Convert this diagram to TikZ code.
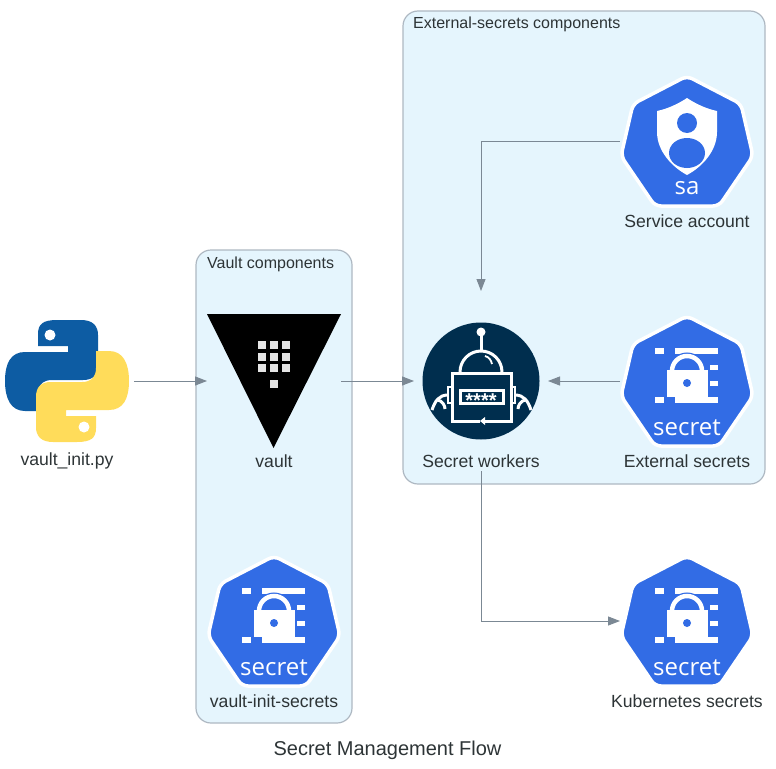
\documentclass[tikz,border=0pt]{standalone}
\usepackage{fontspec}
\setmainfont{Liberation Sans}
\newfontfamily\iconfont{Open Sans}
\usetikzlibrary{arrows.meta, positioning}
\definecolor{clusterfill}{RGB}{229, 245, 253}
\definecolor{clusterline}{RGB}{174, 184, 194}
\definecolor{edgegray}{RGB}{123, 136, 148}
\definecolor{textgray}{RGB}{45, 52, 54}
\definecolor{kubeblue}{RGB}{50, 108, 229}
\definecolor{botnavy}{RGB}{0, 46, 78}
\definecolor{pyblue}{RGB}{13, 92, 163}
\definecolor{pyyellow}{RGB}{255, 220, 90}

\tikzset{
  cluster/.style={draw=clusterline, fill=clusterfill, line width=1.2pt, rounded corners=15pt},
  clustertitle/.style={anchor=west, inner sep=0pt, text=textgray, font=\fontsize{16}{18}\selectfont},
  svcbox/.style={minimum width=134pt, minimum height=180pt, inner sep=0pt, outer sep=0pt},
  svclabel/.style={inner sep=0pt, text=textgray, font=\fontsize{17.6}{20}\selectfont},
  flow/.style={draw=edgegray, line width=1pt, -{Triangle[length=12pt, width=9pt]}},
  botline/.style={draw=white, line width=3pt},
  icontext/.style={inner sep=0pt, text=white, font=\iconfont\fontsize{24}{26}\selectfont}
}

% blue heptagon behind the kubernetes icons
\newcommand{\kubehept}{
  \draw[fill=kubeblue, draw=white, line width=3.5pt, line join=round, rounded corners=6pt]
    (0,-65) -- (54,-37) -- (66,15) -- (32,65) -- (-32,65) -- (-66,15) -- (-54,-37) -- cycle;
}
\newcommand{\secreticon}[1]{
  \begin{scope}[shift={(#1.center)}]
    \kubehept
    \fill[white] (-32,-33) rectangle (-23,-27);
    \fill[white] (-12,-33) rectangle (31,-27);
    \fill[white] (23,-16) rectangle (31,-11);
    \fill[white] (23,0) rectangle (31,5);
    \fill[white] (-32,16) rectangle (-23,22);
    \fill[white] (-12,16) rectangle (31,22);
    \draw[kubeblue, line width=7pt] (-15,-9) -- (-15,-10) arc[start angle=180, end angle=360, radius=15] -- (15,-9);
    \draw[white, line width=4.5pt] (-15,-9) -- (-15,-10) arc[start angle=180, end angle=360, radius=15] -- (15,-9);
    \fill[white] (-20,-11) rectangle (21,16);
    \fill[kubeblue] (0,2) circle (4);
    \node[icontext] (#1text) at (0,47) {secret};
  \end{scope}
}

\begin{document}
\begin{tikzpicture}[x=1pt, y=-1pt]
  \useasboundingbox (0,0) rectangle (776,768);

  % Clusters
  \draw[cluster] (196,250) rectangle (352,723);
  \node[clustertitle] (vaulttitle) at (207,264) {Vault components};
  \draw[cluster] (403,11) rectangle (765,484);
  \node[clustertitle] (exttitle) at (413,24) {External-secrets components};

  % Nodes
  \node[svcbox] (script) at (67,381) {};
  \node[svcbox] (vault) at (274,381) {};
  \node[svcbox] (vaultinit) at (274,621) {};
  \node[svcbox] (workers) at (481,381) {};
  \node[svcbox] (account) at (687,141) {};
  \node[svcbox] (external) at (687,381) {};
  \node[svcbox] (kube) at (687,621) {};

  % Labels
  \node[svclabel] (scriptlabel) at (67,461) {vault\_init.py};
  \node[svclabel] (vaultlabel) at (274,461) {vault};
  \node[svclabel] (vaultinitlabel) at (274,701) {vault-init-secrets};
  \node[svclabel] (workerslabel) at (481,461) {Secret workers};
  \node[svclabel] (accountlabel) at (687,221) {Service account};
  \node[svclabel] (externallabel) at (687,461) {External secrets};
  \node[svclabel] (kubelabel) at (687,701) {Kubernetes secrets};

  % Python logo
  \begin{scope}[shift={(script.center)}]
    \foreach \ang/\col in {0/pyblue, 180/pyyellow} {
      \begin{scope}[rotate=\ang]
        \fill[\col] (-29,-35) -- (-29,-47) .. controls (-29,-57) and (-24,-61) .. (-10,-61)
          -- (14,-61) .. controls (26,-61) and (31,-55) .. (31,-46) -- (31,-16)
          .. controls (31,-6) and (26,-1) .. (16,-1) -- (-15,-1)
          .. controls (-24,-1) and (-29,4) .. (-29,13) -- (-29,30) -- (-42,30)
          .. controls (-56,30) and (-62,18) .. (-62,0) .. controls (-62,-18) and (-56,-29) .. (-42,-29)
          -- (1,-29) -- (1,-35) -- cycle;
        \fill[white] (-17,-46) circle (5.5);
      \end{scope}
    }
  \end{scope}

  % Vault triangle
  \begin{scope}[shift={(vault.center)}]
    \fill[black] (-67,-67) -- (67,-67) -- (-0.5,67) -- cycle;
    \foreach \px in {-12,0,12} {
      \foreach \py in {-36,-24,-13} {
        \fill[white!90!black] (\px-4,\py-4) rectangle (\px+4,\py+4);
      }
    }
    \fill[white!90!black] (-4,-1) rectangle (4,7);
  \end{scope}

  % Kubernetes secrets
  \secreticon{vaultinit}
  \secreticon{external}
  \secreticon{kube}

  % Service account
  \begin{scope}[shift={(account.center)}]
    \kubehept
    \fill[white] (0,-43) .. controls (-9,-37) and (-20,-32) .. (-30,-30) -- (-30,-9)
      .. controls (-30,10) and (-15,26) .. (0,34) .. controls (15,26) and (30,10) .. (30,-9)
      -- (30,-30) .. controls (20,-32) and (9,-37) .. (0,-43) -- cycle;
    \fill[kubeblue] (0,-18) circle (10);
    \fill[kubeblue] (0,12) ellipse (18 and 15);
    \node[icontext] (accounttext) at (0,47) {sa};
  \end{scope}

  % Robot
  \begin{scope}[shift={(workers.center)}]
    \fill[botnavy] (0,0) circle (58.5);
    \fill[white] (0,-49) circle (4.5);
    \draw[botline] (0,-49) -- (0,-31);
    \draw[botline] (-21,-9) arc[start angle=180, end angle=360, radius=21];
    \draw[white, line width=1.8pt] (4,-25) .. controls (8,-24) and (10,-21) .. (11,-17);
    \draw[botline] (-1,40) -- (-29,40) -- (-29,-8) -- (30,-8) -- (30,40) -- (4,40);
    \fill[white] (4,36) -- (4,44) -- (-1,40) -- cycle;
    \draw[botline] (-21,9) rectangle (22,22);
    \draw[white, line width=2pt] (-33,6) rectangle (-29,22);
    \draw[white, line width=2pt] (30,6) rectangle (34,22);
    \draw[botline] (-33,14) .. controls (-42,14) and (-46,20) .. (-49,29);
    \draw[botline] (-43,19) .. controls (-39,20) and (-36,24) .. (-36,28);
    \draw[botline] (34,14) .. controls (43,14) and (47,20) .. (50,29);
    \draw[botline] (44,19) .. controls (40,20) and (37,24) .. (37,28);
    \node[inner sep=0pt, text=white, font=\bfseries\fontsize{20}{20}\selectfont] (pwstars) at (0,19.5) {****};
  \end{scope}

  % Connectors
  \draw[flow] (script.east) -- (vault.west);
  \draw[flow] (vault.east) -- (workers.west);
  \draw[flow] (external.west) -- (workers.east);
  \draw[flow] (account.west) -| (workers.north);
  \draw[flow] (workers.south) |- (kube.west);

  % Title
  \node[inner sep=0pt, text=textgray, font=\fontsize{20}{24}\selectfont] (flowtitle) at (387.5,750) {Secret Management Flow};
\end{tikzpicture}
\end{document}
